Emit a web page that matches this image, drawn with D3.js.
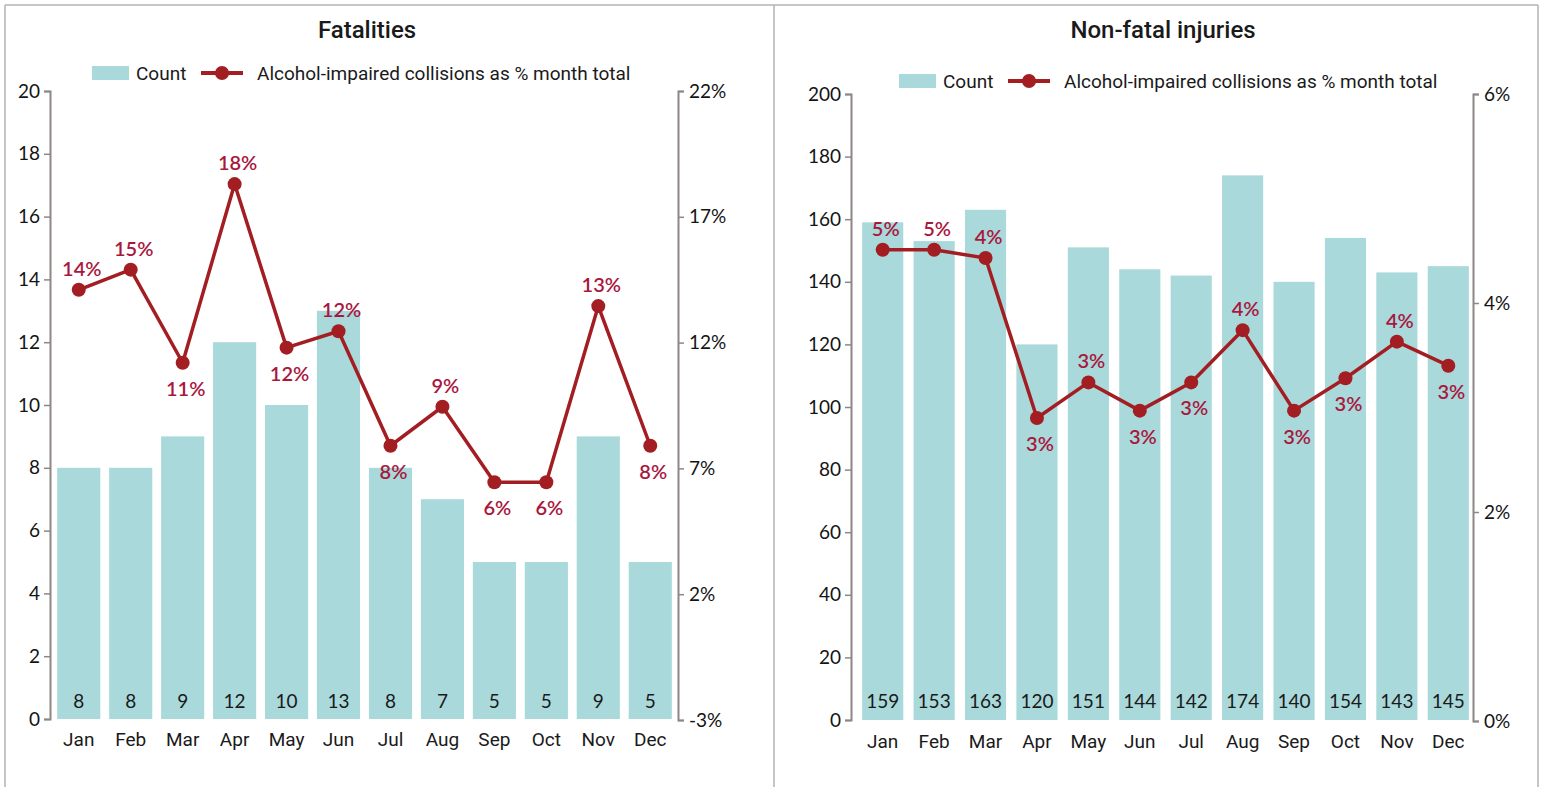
<!DOCTYPE html>
<html>
<head>
<meta charset="utf-8">
<script src="https://cdn.jsdelivr.net/npm/d3@7"></script>
<style>
  html, body { margin: 0; padding: 0; background: #fff; }
  svg { display: block; }
  .title { font-family: "Roboto", sans-serif; font-size: 24px; font-weight: 500; fill: #1a1a1a; }
  .legend { font-family: "Roboto", sans-serif; font-size: 19px; fill: #1a1a1a; }
  .tick text { font-family: "Lato", "Open Sans", sans-serif; font-size: 19px; fill: #141414; }
  .month { font-family: "Roboto", sans-serif; font-size: 19px; fill: #1a1a1a; }
  .barval { font-family: "Lato", "Open Sans", sans-serif; font-size: 19px; fill: #1a1a1a; }
  .pct { font-family: "Lato", "Open Sans", sans-serif; font-size: 20px; font-weight: 600; fill: #a8173d; }
</style>
</head>
<body>
<svg id="chart" width="1543" height="787"></svg>
<script>
// Month categories shared by both panels
const months = ["Jan","Feb","Mar","Apr","May","Jun","Jul","Aug","Sep","Oct","Nov","Dec"];

// Fatalities panel
const fatalCounts = [8, 8, 9, 12, 10, 13, 8, 7, 5, 5, 9, 5];
const fatalPct = [14.1, 14.9, 11.2, 18.3, 11.8, 12.45, 7.9, 9.45, 6.45, 6.45, 13.45, 7.9];
const fatalCountTicks = [0, 2, 4, 6, 8, 10, 12, 14, 16, 18, 20];
const fatalPctTicks = [-3, 2, 7, 12, 17, 22];
const fatalLabelSide = ["above","above","below","above","below","above","below","above","below","below","above","below"];

// Non-fatal injuries panel
const injuryCounts = [159, 153, 163, 120, 151, 144, 142, 174, 140, 154, 143, 145];
const injuryPct = [4.51, 4.51, 4.43, 2.9, 3.24, 2.97, 3.24, 3.74, 2.97, 3.28, 3.63, 3.4];
const injuryCountTicks = [0, 20, 40, 60, 80, 100, 120, 140, 160, 180, 200];
const injuryPctTicks = [0, 2, 4, 6];
const injuryLabelSide = ["above","above","above","below","above","below","below","above","below","below","above","below"];

const BAR = "#a9d9da";
const LINE = "#a31e22";
const AXIS = "#8e8686";

const svg = d3.select("#chart");

// Panel frames
const frame = svg.append("g").attr("fill", "none").attr("stroke", "#b3b3b3").attr("stroke-width", 1.5);
frame.append("line").attr("x1", 5).attr("x2", 1538).attr("y1", 5).attr("y2", 5);
[5, 774, 1538].forEach(x => frame.append("line").attr("x1", x).attr("x2", x).attr("y1", 5).attr("y2", 787));

function drawPanel(p) {
  const g = svg.append("g");

  const x = d3.scaleBand().domain(months).range(p.xRange).paddingInner(p.padInner).paddingOuter(0.1);
  const yCount = d3.scaleLinear().domain(p.countDomain).range(p.yRange);
  const yPct = d3.scaleLinear().domain(p.pctDomain).range(p.yRangePct);

  // Title
  g.append("text").attr("class", "title").attr("x", p.titleX).attr("y", p.titleY)
    .attr("text-anchor", "middle").text(p.title);

  // Legend
  const lg = g.append("g").attr("transform", `translate(${p.legendX},${p.legendY})`);
  lg.append("rect").attr("x", 0).attr("y", -7).attr("width", 37).attr("height", 14).attr("fill", BAR);
  lg.append("text").attr("class", "legend").attr("x", 44).attr("y", 7).text("Count");
  lg.append("line").attr("x1", 109).attr("x2", 151).attr("y1", 0).attr("y2", 0)
    .attr("stroke", LINE).attr("stroke-width", 4);
  lg.append("circle").attr("cx", 130).attr("cy", 0).attr("r", 7).attr("fill", LINE);
  lg.append("text").attr("class", "legend").attr("x", 165).attr("y", 7)
    .text("Alcohol-impaired collisions as % month total");

  // Bars
  g.append("g").selectAll("rect").data(p.counts).join("rect")
    .attr("x", (d, i) => x(months[i]))
    .attr("y", d => yCount(d))
    .attr("width", x.bandwidth())
    .attr("height", d => yCount(0) - yCount(d))
    .attr("fill", BAR);

  // Count values inside bars
  g.append("g").selectAll("text").data(p.counts).join("text")
    .attr("class", "barval")
    .attr("x", (d, i) => x(months[i]) + x.bandwidth() / 2)
    .attr("y", p.valueY)
    .attr("text-anchor", "middle")
    .text(d => d);

  // Axes
  const axL = d3.axisLeft(yCount).tickValues(p.countTicks).tickSize(6).tickPadding(4);
  const axR = d3.axisRight(yPct).tickValues(p.pctTicks).tickSize(6).tickPadding(5)
    .tickFormat(d => d + "%");
  const gl = g.append("g").attr("transform", `translate(${p.axisLeftX},0)`).call(axL);
  const gr = g.append("g").attr("transform", `translate(${p.axisRightX},0)`).call(axR);
  [gl, gr].forEach(a => {
    a.select(".domain").attr("stroke", AXIS).attr("stroke-width", 2);
    a.selectAll(".tick line").attr("stroke", AXIS).attr("stroke-width", 1.5);
  });

  // Month labels
  g.append("g").selectAll("text").data(months).join("text")
    .attr("class", "month")
    .attr("x", d => x(d) + x.bandwidth() / 2)
    .attr("y", p.monthY)
    .attr("text-anchor", "middle")
    .text(d => d);

  // Percentage line
  const cx = i => x(months[i]) + x.bandwidth() / 2;
  const line = d3.line().x((d, i) => cx(i)).y(d => yPct(d));
  g.append("path").datum(p.pct).attr("d", line)
    .attr("fill", "none").attr("stroke", LINE).attr("stroke-width", 3.5).attr("stroke-linejoin", "round");
  g.append("g").selectAll("circle").data(p.pct).join("circle")
    .attr("cx", (d, i) => cx(i)).attr("cy", d => yPct(d)).attr("r", 7).attr("fill", LINE);

  // Percentage labels
  g.append("g").selectAll("text").data(p.pct).join("text")
    .attr("class", "pct")
    .attr("x", (d, i) => cx(i) + 3)
    .attr("y", (d, i) => yPct(d) + (p.side[i] === "above" ? -14 : 33))
    .attr("text-anchor", "middle")
    .text(d => Math.round(d) + "%");
}

drawPanel({
  title: "Fatalities", titleX: 367, titleY: 38,
  legendX: 92, legendY: 73,
  counts: fatalCounts, pct: fatalPct, side: fatalLabelSide,
  countTicks: fatalCountTicks, pctTicks: fatalPctTicks,
  countDomain: [0, 20], pctDomain: [-3, 22],
  xRange: [52, 677], padInner: 0.17,
  yRange: [719, 91], yRangePct: [720, 91],
  axisLeftX: 50, axisRightX: 678,
  valueY: 708, monthY: 746
});

drawPanel({
  title: "Non-fatal injuries", titleX: 1163, titleY: 38,
  legendX: 899, legendY: 81,
  counts: injuryCounts, pct: injuryPct, side: injuryLabelSide,
  countTicks: injuryCountTicks, pctTicks: injuryPctTicks,
  countDomain: [0, 200], pctDomain: [0, 6],
  xRange: [857, 1474], padInner: 0.2,
  yRange: [720, 94], yRangePct: [721, 94],
  axisLeftX: 851, axisRightX: 1473,
  valueY: 708, monthY: 748
});
</script>
</body>
</html>
